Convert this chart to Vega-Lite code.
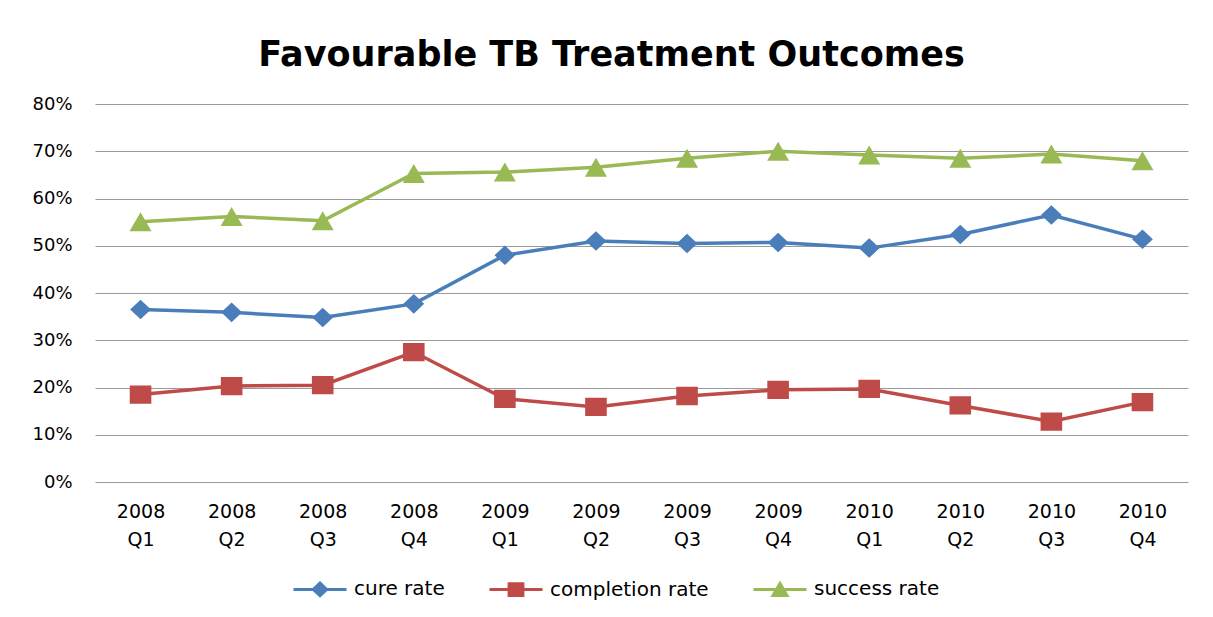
{
  "$schema": "https://vega.github.io/schema/vega-lite/v6.json",
  "width": 1093,
  "height": 378,
  "autosize": "none",
  "padding": {"left": 95, "top": 104, "right": 25, "bottom": 135},
  "background": "white",
  "title": {
    "text": "Favourable TB Treatment Outcomes",
    "font": "DejaVu Sans",
    "fontSize": 35,
    "fontWeight": "bold",
    "color": "#000000",
    "anchor": "middle",
    "dx": -30,
    "offset": 22
  },
  "config": {
    "view": {"stroke": null},
    "font": "DejaVu Sans"
  },
  "data": {
    "values": [
      {"q": "2008 Q1", "s": "cure rate", "v": 0.365},
      {"q": "2008 Q2", "s": "cure rate", "v": 0.359},
      {"q": "2008 Q3", "s": "cure rate", "v": 0.348},
      {"q": "2008 Q4", "s": "cure rate", "v": 0.377},
      {"q": "2009 Q1", "s": "cure rate", "v": 0.480},
      {"q": "2009 Q2", "s": "cure rate", "v": 0.510},
      {"q": "2009 Q3", "s": "cure rate", "v": 0.505},
      {"q": "2009 Q4", "s": "cure rate", "v": 0.507},
      {"q": "2010 Q1", "s": "cure rate", "v": 0.495},
      {"q": "2010 Q2", "s": "cure rate", "v": 0.524},
      {"q": "2010 Q3", "s": "cure rate", "v": 0.565},
      {"q": "2010 Q4", "s": "cure rate", "v": 0.514},
      {"q": "2008 Q1", "s": "completion rate", "v": 0.185},
      {"q": "2008 Q2", "s": "completion rate", "v": 0.203},
      {"q": "2008 Q3", "s": "completion rate", "v": 0.205},
      {"q": "2008 Q4", "s": "completion rate", "v": 0.275},
      {"q": "2009 Q1", "s": "completion rate", "v": 0.176},
      {"q": "2009 Q2", "s": "completion rate", "v": 0.159},
      {"q": "2009 Q3", "s": "completion rate", "v": 0.182},
      {"q": "2009 Q4", "s": "completion rate", "v": 0.195},
      {"q": "2010 Q1", "s": "completion rate", "v": 0.197},
      {"q": "2010 Q2", "s": "completion rate", "v": 0.162},
      {"q": "2010 Q3", "s": "completion rate", "v": 0.128},
      {"q": "2010 Q4", "s": "completion rate", "v": 0.169},
      {"q": "2008 Q1", "s": "success rate", "v": 0.551},
      {"q": "2008 Q2", "s": "success rate", "v": 0.562},
      {"q": "2008 Q3", "s": "success rate", "v": 0.553},
      {"q": "2008 Q4", "s": "success rate", "v": 0.653},
      {"q": "2009 Q1", "s": "success rate", "v": 0.656},
      {"q": "2009 Q2", "s": "success rate", "v": 0.666},
      {"q": "2009 Q3", "s": "success rate", "v": 0.685},
      {"q": "2009 Q4", "s": "success rate", "v": 0.700},
      {"q": "2010 Q1", "s": "success rate", "v": 0.692},
      {"q": "2010 Q2", "s": "success rate", "v": 0.685},
      {"q": "2010 Q3", "s": "success rate", "v": 0.694},
      {"q": "2010 Q4", "s": "success rate", "v": 0.680}
    ]
  },
  "encoding": {
    "x": {
      "field": "q",
      "type": "ordinal",
      "sort": null,
      "scale": {"type": "point", "padding": 0.5},
      "axis": {
        "title": null,
        "domain": false,
        "ticks": false,
        "grid": false,
        "labelAngle": 0,
        "labelFont": "DejaVu Sans",
        "labelFontSize": 19,
        "labelColor": "#000000",
        "labelPadding": 20,
        "labelLineHeight": 28,
        "labelExpr": "split(datum.label, ' ')"
      }
    },
    "y": {
      "field": "v",
      "type": "quantitative",
      "scale": {"domain": [0, 0.8], "nice": false},
      "axis": {
        "title": null,
        "format": ".0%",
        "values": [0, 0.1, 0.2, 0.3, 0.4, 0.5, 0.6, 0.7, 0.8],
        "domain": false,
        "ticks": false,
        "grid": true,
        "gridColor": "#9a9a9a",
        "gridWidth": 1.2,
        "labelFont": "DejaVu Sans",
        "labelFontSize": 18,
        "labelColor": "#000000",
        "labelPadding": 23
      }
    },
    "color": {
      "field": "s",
      "type": "nominal",
      "sort": ["cure rate", "completion rate", "success rate"],
      "scale": {
        "domain": ["cure rate", "completion rate", "success rate"],
        "range": ["#4A7EBB", "#BE4B48", "#98B954"]
      },
      "legend": {
        "orient": "none",
        "legendX": 197,
        "legendY": 457,
        "direction": "horizontal",
        "title": null,
        "labelFont": "DejaVu Sans",
        "labelFontSize": 20,
        "labelColor": "#000000",
        "labelOffset": 6,
        "columnPadding": 38,
        "symbolSize": 2809,
        "symbolStrokeWidth": 3
      }
    }
  },
  "layer": [
    {
      "mark": {"type": "line", "strokeWidth": 3.5}
    },
    {
      "mark": {"type": "point", "filled": true, "opacity": 1, "size": 6900},
      "encoding": {
        "shape": {
          "field": "s",
          "type": "nominal",
          "sort": ["cure rate", "completion rate", "success rate"],
          "scale": {
            "domain": ["cure rate", "completion rate", "success rate"],
            "range": [
              "M-1,0H1M-0.25,0L0,-0.235L0.25,0L0,0.235Z",
              "M-1,0H1M-0.26,-0.22H0.26V0.22H-0.26Z",
              "M-1,0H1M-0.265,0.229L0,-0.229L0.265,0.229Z"
            ]
          }
        },
        "stroke": {
          "field": "s",
          "type": "nominal",
          "sort": ["cure rate", "completion rate", "success rate"],
          "scale": {
            "domain": ["cure rate", "completion rate", "success rate"],
            "range": ["#4A7EBB", "#BE4B48", "#98B954"]
          }
        },
        "strokeWidth": {"value": 0}
      }
    }
  ]
}
